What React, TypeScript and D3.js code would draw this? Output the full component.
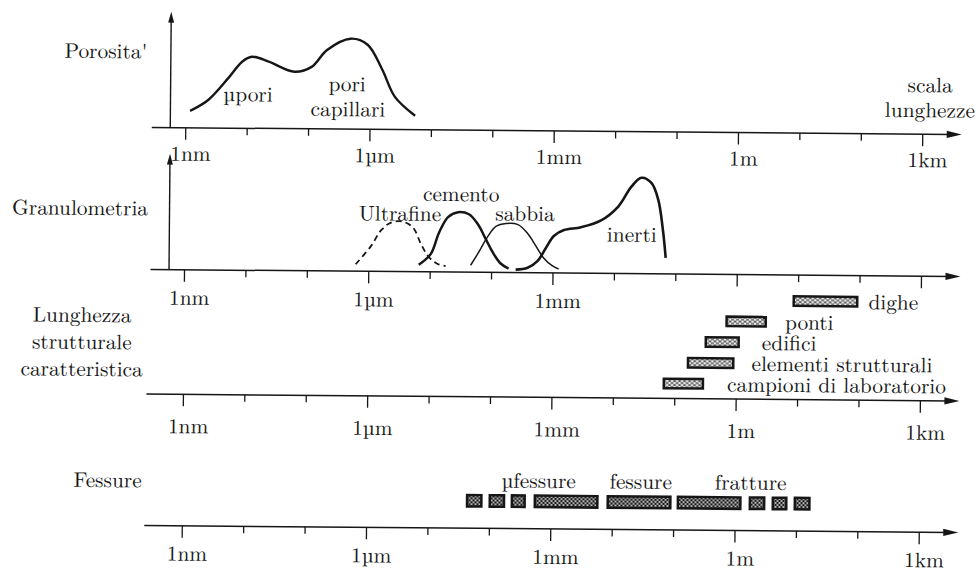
import React, { useLayoutEffect, useState } from "react";
import * as d3 from "d3";

const WIDTH = 978;
const HEIGHT = 572;

// ---------- shared length axis ----------
const TICK_VALUES = [1e-9, 1e-8, 1e-7, 1e-6, 1e-5, 1e-4, 1e-3, 1e-2, 1e-1, 1, 1e1, 1e2, 1e3];
const LABEL_VALUES = [1e-9, 1e-6, 1e-3, 1, 1e3];
const TICK_LABELS = ["1nm", "1µm", "1mm", "1m", "1km"];
const PANEL_LABEL_COUNT = [5, 3, 5, 5];

// ---------- panel titles ----------
const TITLE_POROSITY = "Porosita'";
const TITLE_GRANULO = "Granulometria";
const TITLE_STRUCT = ["Lunghezza", "strutturale", "caratteristica"];
const TITLE_CRACKS = "Fessure";
const AXIS_NAME = ["scala", "lunghezze"];

// ---------- porosity curve ----------
const POR_SIZE = [1.17e-9, 2.3e-9, 5.0e-9, 8.1e-9, 1.17e-8, 2.2e-8, 5.8e-8, 1.1e-7, 1.95e-7, 4.7e-7, 8.9e-7, 1.55e-6, 2.5e-6, 5.4e-6];
const POR_VALUE = [17, 28, 51, 66.5, 71.6, 66.8, 57, 62, 79, 90.5, 84.6, 60, 33, 14];
const POR_TEXT = ["µpori", "pori", "capillari"];

// ---------- grading curves ----------
const ULTRA_SIZE = [6.1e-7, 1.07e-6, 1.56e-6, 2.26e-6, 3.55e-6, 5.2e-6, 7.0e-6, 9.4e-6, 1.32e-5, 1.78e-5];
const ULTRA_VALUE = [7, 25, 41, 49, 50, 44, 28, 15, 8, 6];
const CEM_SIZE = [6.5e-6, 1.02e-5, 1.37e-5, 1.92e-5, 2.79e-5, 4.2e-5, 5.9e-5, 8.0e-5, 1.04e-4, 1.4e-4, 1.89e-4];
const CEM_VALUE = [7, 18, 39, 55, 60, 58, 48, 33, 20, 9, 4];
const SAB_SIZE = [4.55e-5, 6.1e-5, 8.6e-5, 1.16e-4, 1.69e-4, 2.65e-4, 3.85e-4, 5.2e-4, 7.0e-4, 9.8e-4, 1.23e-3];
const SAB_VALUE = [7, 20, 36, 46, 49, 48, 39, 27, 15, 7, 4];
const INE_SIZE = [2.46e-4, 3.85e-4, 5.6e-4, 7.6e-4, 1.02e-3, 1.49e-3, 2.82e-3, 5.96e-3, 1.13e-2, 1.84e-2, 2.67e-2, 3.89e-2, 5.06e-2, 6.1e-2, 6.8e-2];
const INE_VALUE = [3, 5, 12, 25, 37, 43, 46, 53, 67, 87, 96, 91, 74, 43, 16];
const GRADE_NAMES = ["Ultrafine", "cemento", "sabbia", "inerti"];

// ---------- characteristic structural length ----------
const STRUCT_NAMES = ["dighe", "ponti", "edifici", "elementi strutturali", "campioni di laboratorio"];
const STRUCT_MIN = [8, 0.65, 0.3, 0.155, 0.063];
const STRUCT_MAX = [95, 3.1, 1.13, 0.93, 0.3];

// ---------- cracks ----------
const CRACK_MIN = [4.1e-5, 9.6e-5, 2.2e-4, 5.2e-4, 8.0e-3, 0.111, 1.65, 3.9, 8.9];
const CRACK_MAX = [7.7e-5, 1.8e-4, 3.9e-4, 5.96e-3, 9.2e-2, 1.27, 3.1, 7.1, 16.9];
const CRACK_NAMES = ["µfessure", "fessure", "fratture"];

// ---------- layout ----------
const AXIS_Y = [131, 273, 397.5, 529];
const AXIS_X0 = [150, 150, 147, 146];
const AXIS_X1 = 960;
const LABEL_OFF = [33, 35, 39, 35];
const SERIF_CANDIDATES = [
  "Latin Modern Roman",
  "CMU Serif",
  "Liberation Serif",
  "Tinos",
  "Times New Roman",
  "DejaVu Serif",
  "Noto Serif",
];
const INK = "#161616";
const FONT_SIZE = 21;
const REF_TITLE_WIDTH = 136; // width of "Granulometria" in the reference

const x = d3.scaleLog().domain([1e-9, 1e3]).range([184, 921]);
const yScales = AXIS_Y.map((a) => d3.scaleLinear().domain([0, 100]).range([a, a - 100]));

const FontCtx = React.createContext({ sx: 1.0, family: "'Latin Modern Roman', serif" });

type TP = { x: number; y: number; anchor?: string; children: React.ReactNode };
const T = ({ x: tx, y: ty, anchor = "middle", children }: TP) => {
  const { sx, family } = React.useContext(FontCtx);
  return (
    <text
      transform={`translate(${tx},${ty}) scale(${sx},1)`}
      textAnchor={anchor}
      fontFamily={family}
      fontSize={FONT_SIZE}
      fill={INK}
    >
      {children}
    </text>
  );
};

function Axis({ i }: { i: number }) {
  const y = AXIS_Y[i];
  return (
    <g>
      <line x1={AXIS_X0[i]} x2={AXIS_X1 - 10} y1={y} y2={y} stroke={INK} strokeWidth={1.5} />
      <path d={`M${AXIS_X1},${y} L${AXIS_X1 - 15},${y - 3.6} L${AXIS_X1 - 15},${y + 3.6} Z`} fill={INK} />
      {TICK_VALUES.map((v) => {
        const major = LABEL_VALUES.includes(v);
        return <line key={v} x1={x(v)} x2={x(v)} y1={y} y2={y + (major ? 12 : 7)} stroke={INK} strokeWidth={1.3} />;
      })}
      {LABEL_VALUES.slice(0, PANEL_LABEL_COUNT[i]).map((v, k) => (
        <T key={v} x={x(v) + 5} y={y + LABEL_OFF[i]}>
          {TICK_LABELS[k]}
        </T>
      ))}
    </g>
  );
}

function VArrow({ i }: { i: number }) {
  const y = AXIS_Y[i];
  const ax = 168.5;
  const top = y - 116;
  return (
    <g>
      <line x1={ax} x2={ax} y1={y} y2={top + 9} stroke={INK} strokeWidth={1.4} />
      <path d={`M${ax},${top} L${ax - 3},${top + 11} L${ax + 3},${top + 11} Z`} fill={INK} />
    </g>
  );
}

const curve = (sizes: number[], vals: number[], ys: d3.ScaleLinear<number, number>) =>
  d3
    .line<number>()
    .x((_, k) => x(sizes[k]))
    .y((_, k) => ys(vals[k]))
    .curve(d3.curveCatmullRom.alpha(0.5))(vals) || "";

export default function App() {
  const [font, setFont] = useState({ sx: 1.0, family: "'Latin Modern Roman', serif" });
  useLayoutEffect(() => {
    const c = document.createElement("canvas").getContext("2d");
    if (!c) return;
    const probe = "Granulometria Wwl1iµ";
    const base = (g: string) => {
      c.font = `${FONT_SIZE}px ${g}`;
      return c.measureText(probe).width;
    };
    const wMono = base("monospace");
    const wSans = base("sans-serif");
    const avail = SERIF_CANDIDATES.filter((f) => {
      c.font = `${FONT_SIZE}px '${f}', monospace`;
      const a = c.measureText(probe).width;
      c.font = `${FONT_SIZE}px '${f}', sans-serif`;
      const b = c.measureText(probe).width;
      return a !== wMono || b !== wSans;
    });
    const chosen = avail.length ? `'${avail[0]}'` : "serif";
    c.font = `${FONT_SIZE}px ${chosen}`;
    const w = c.measureText(TITLE_GRANULO).width;
    setFont({ sx: w > 0 ? REF_TITLE_WIDTH / w : 1.0, family: chosen });
  }, []);

  const rowY = d3
    .scalePoint<string>()
    .domain(STRUCT_NAMES)
    .range([AXIS_Y[2] - 98.5, AXIS_Y[2] - 15]);
  const structGap = [10, 18, 22, 17, 23];
  const crackY = AXIS_Y[3] - 27.5;
  const crackLabelX = [540, 642, 752];
  const gradeLabel = [
    { x: 399, h: 51 },
    { x: 460, h: 71 },
    { x: 524, h: 52 },
    { x: 631, h: 32 },
  ];
  const porLabel = [
    { x: 246, h: 27 },
    { x: 345, h: 38 },
    { x: 346, h: 13 },
  ];

  return (
    <FontCtx.Provider value={font}>
      <svg
        width={WIDTH}
        height={HEIGHT}
        viewBox={`0 0 ${WIDTH} ${HEIGHT}`}
        style={{ position: "absolute", left: 0, top: 0, background: "#fff" }}
      >
        <defs>
          <pattern id="patA" width="5" height="4" patternUnits="userSpaceOnUse">
            <rect width="5" height="4" fill="#f2f2f2" />
            <path d="M0,0 L2.5,2 L5,0 M0,4 L2.5,2 L5,4" stroke="#3a3a3a" strokeWidth="0.9" fill="none" />
          </pattern>
          <pattern id="patB" width="4" height="4" patternUnits="userSpaceOnUse">
            <rect width="4" height="4" fill="#1a1a1a" />
            <circle cx="1" cy="1" r="0.9" fill="#fff" />
            <circle cx="3" cy="3" r="0.9" fill="#e8e8e8" />
          </pattern>
        </defs>
        <rect width={WIDTH} height={HEIGHT} fill="#fff" />
        <g transform="rotate(0.5 555 330)">
          <T x={145} y={62} anchor="end">{TITLE_POROSITY}</T>
          <T x={147} y={219} anchor="end">{TITLE_GRANULO}</T>
          {TITLE_STRUCT.map((s, k) => (
            <T key={s} x={82} y={326 + k * 27}>
              {s}
            </T>
          ))}
          <T x={143} y={491} anchor="end">{TITLE_CRACKS}</T>
          <T x={928} y={89}>{AXIS_NAME[0]}</T>
          <T x={928} y={114}>{AXIS_NAME[1]}</T>

          {[0, 1, 2, 3].map((i) => (
            <Axis key={i} i={i} />
          ))}
          <VArrow i={0} />
          <VArrow i={1} />

          <path d={curve(POR_SIZE, POR_VALUE, yScales[0])} fill="none" stroke={INK} strokeWidth={2.4} />
          {POR_TEXT.map((t, k) => (
            <T key={t} x={porLabel[k].x} y={yScales[0](porLabel[k].h)}>
              {t}
            </T>
          ))}

          <path d={curve(ULTRA_SIZE, ULTRA_VALUE, yScales[1])} fill="none" stroke={INK} strokeWidth={1.8} strokeDasharray="6,4" />
          <path d={curve(CEM_SIZE, CEM_VALUE, yScales[1])} fill="none" stroke={INK} strokeWidth={2.5} />
          <path d={curve(SAB_SIZE, SAB_VALUE, yScales[1])} fill="none" stroke={INK} strokeWidth={1.5} />
          <path d={curve(INE_SIZE, INE_VALUE, yScales[1])} fill="none" stroke={INK} strokeWidth={2.6} />
          {GRADE_NAMES.map((t, k) => (
            <T key={t} x={gradeLabel[k].x} y={yScales[1](gradeLabel[k].h)}>
              {t}
            </T>
          ))}

          {STRUCT_NAMES.map((n, k) => {
            const cy = rowY(n) as number;
            const x0 = x(STRUCT_MIN[k]);
            const x1 = x(STRUCT_MAX[k]);
            return (
              <g key={n}>
                <rect x={x0} y={cy - 6} width={x1 - x0} height={12} fill={INK} />
                <rect x={x0 + 2.5} y={cy - 3.5} width={x1 - x0 - 5} height={7} fill="url(#patA)" />
                <T x={x1 + structGap[k]} y={cy + 7.5} anchor="start">
                  {n}
                </T>
              </g>
            );
          })}

          {CRACK_MIN.map((m, k) => {
            const x0 = x(m);
            const x1 = x(CRACK_MAX[k]);
            return (
              <g key={k}>
                <rect x={x0} y={crackY - 7} width={x1 - x0} height={14} fill={INK} />
                <rect x={x0 + 2.5} y={crackY - 4.5} width={x1 - x0 - 5} height={9} fill="url(#patB)" />
              </g>
            );
          })}
          {CRACK_NAMES.map((t, k) => (
            <T key={t} x={crackLabelX[k]} y={AXIS_Y[3] - 41}>
              {t}
            </T>
          ))}
        </g>
      </svg>
    </FontCtx.Provider>
  );
}
